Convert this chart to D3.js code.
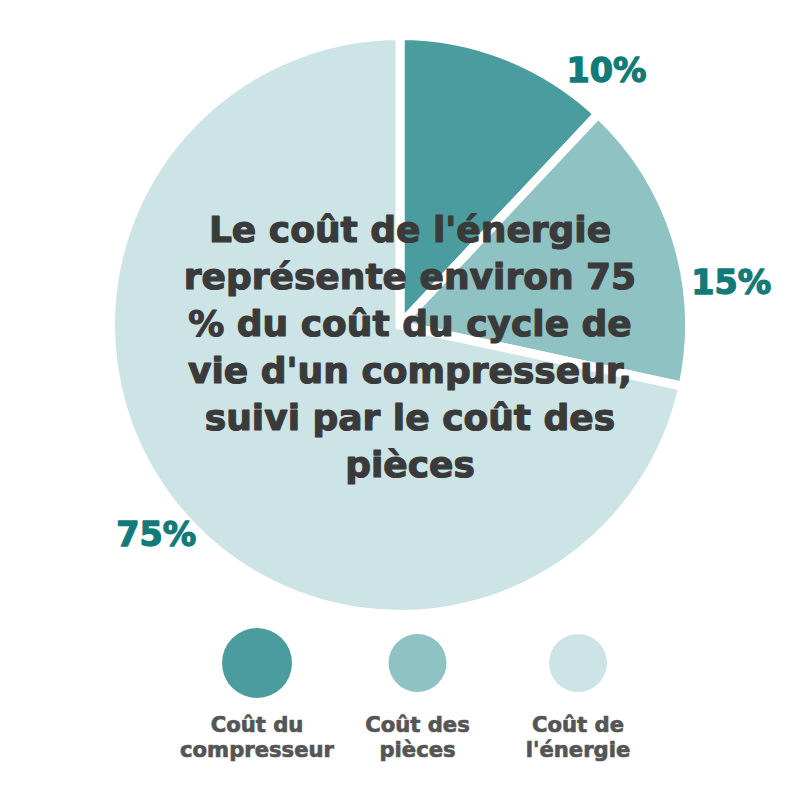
<!DOCTYPE html>
<html>
<head>
<meta charset="utf-8">
<script src="https://cdn.jsdelivr.net/npm/d3@7/dist/d3.min.js"></script>
<style>
  html, body { margin: 0; padding: 0; background: #ffffff; }
  svg { display: block; font-family: "DejaVu Sans", "Noto Sans", sans-serif; }
</style>
</head>
<body>
<svg id="chart" width="800" height="800"></svg>
<script>
// ---------- data ----------
const categories = ["Coût du compresseur", "Coût des pièces", "Coût de l'énergie"];
// slice sizes as drawn in the picture (measured angles)
const sliceShares = [12.0, 16.4, 71.6];
const shareLabels = ["10%", "15%", "75%"];
const headlineLines = [
  "Le coût de l'énergie",
  "représente environ 75",
  "% du coût du cycle de",
  "vie d'un compresseur,",
  "suivi par le coût des",
  "pièces"
];
const legendLines = [
  ["Coût du", "compresseur"],
  ["Coût des", "pièces"],
  ["Coût de", "l'énergie"]
];

// ---------- styles / layout ----------
const sliceColors = ["#4a9c9e", "#8fc2c3", "#cce4e5"];
const labelColor = "#127a79";
const headlineColor = "#3a3a3a";
const legendTextColor = "#555555";
const cx = 400, cy = 325, radius = 285, gap = 9;
const labelPlacement = [ {angle: 39, r: 328}, {angle: 82.6, r: 334}, {angle: 229.4, r: 321} ];
const legendRadius = [35, 29, 29];

const svg = d3.select("#chart");

// ---------- pie ----------
const pie = d3.pie().sort(null).value(d => d.v);
const arcs = pie(categories.map((c, i) => ({c, v: sliceShares[i], i})));
const arc = d3.arc().innerRadius(0).outerRadius(radius + gap / 2);

const g = svg.append("g").attr("transform", `translate(${cx},${cy})`);
g.selectAll("path.slice")
  .data(arcs)
  .join("path")
  .attr("class", "slice")
  .attr("d", arc)
  .attr("fill", d => sliceColors[d.data.i])
  .attr("stroke", "#ffffff")
  .attr("stroke-width", gap)
  .attr("stroke-linejoin", "miter");

// ---------- percentage labels ----------
const labelSel = g.selectAll("text.pct")
  .data(arcs)
  .join("text")
  .attr("class", "pct")
  .attr("text-anchor", "middle")
  .attr("font-weight", "bold")
  .attr("fill", labelColor)
  .attr("stroke", labelColor)
  .attr("stroke-width", 1.3)
  .attr("stroke-linejoin", "round")
  .attr("font-size", 34)
  .text(d => shareLabels[d.data.i]);
{
  const w = labelSel.nodes()[1].getComputedTextLength();
  const fs = 34 * 80 / w;
  labelSel.attr("font-size", fs).each(function(d) {
    const p = labelPlacement[d.data.i];
    const [x, y] = d3.pointRadial(p.angle * Math.PI / 180, p.r);
    d3.select(this).attr("x", x).attr("y", y + fs * 0.36);
  });
}

// ---------- headline text ----------
const head = svg.append("text")
  .attr("text-anchor", "middle")
  .attr("font-weight", "bold")
  .attr("fill", headlineColor)
  .attr("stroke", headlineColor)
  .attr("stroke-width", 1.2)
  .attr("stroke-linejoin", "round")
  .attr("font-size", 34);
head.selectAll("tspan")
  .data(headlineLines)
  .join("tspan")
  .attr("x", 410)
  .attr("y", (d, i) => 242 + i * 47)
  .text(d => d);
{
  const probe = svg.append("text").attr("font-weight", "bold").attr("font-size", 34).text(headlineLines[3]);
  const w = probe.node().getComputedTextLength();
  probe.remove();
  head.attr("font-size", 34 * 444 / w);
}

// ---------- legend ----------
const lx = d3.scalePoint().domain(categories).range([257, 578]);
const leg = svg.append("g").selectAll("g")
  .data(categories)
  .join("g")
  .attr("transform", d => `translate(${lx(d)},0)`);
leg.append("circle")
  .attr("cy", 663)
  .attr("r", (d, i) => legendRadius[i])
  .attr("fill", (d, i) => sliceColors[i]);
const legText = leg.append("text")
  .attr("text-anchor", "middle")
  .attr("font-weight", "bold")
  .attr("fill", legendTextColor)
  .attr("stroke", legendTextColor)
  .attr("stroke-width", 0.7)
  .attr("stroke-linejoin", "round")
  .attr("font-size", 21);
legText.selectAll("tspan")
  .data((d, i) => legendLines[i])
  .join("tspan")
  .attr("x", 0)
  .attr("y", (d, j) => 732 + j * 25)
  .text(d => d);
{
  const probe = svg.append("text").attr("font-weight", "bold").attr("font-size", 21).text("compresseur");
  const w = probe.node().getComputedTextLength();
  probe.remove();
  legText.attr("font-size", 21 * 154 / w);
}
</script>
</body>
</html>
